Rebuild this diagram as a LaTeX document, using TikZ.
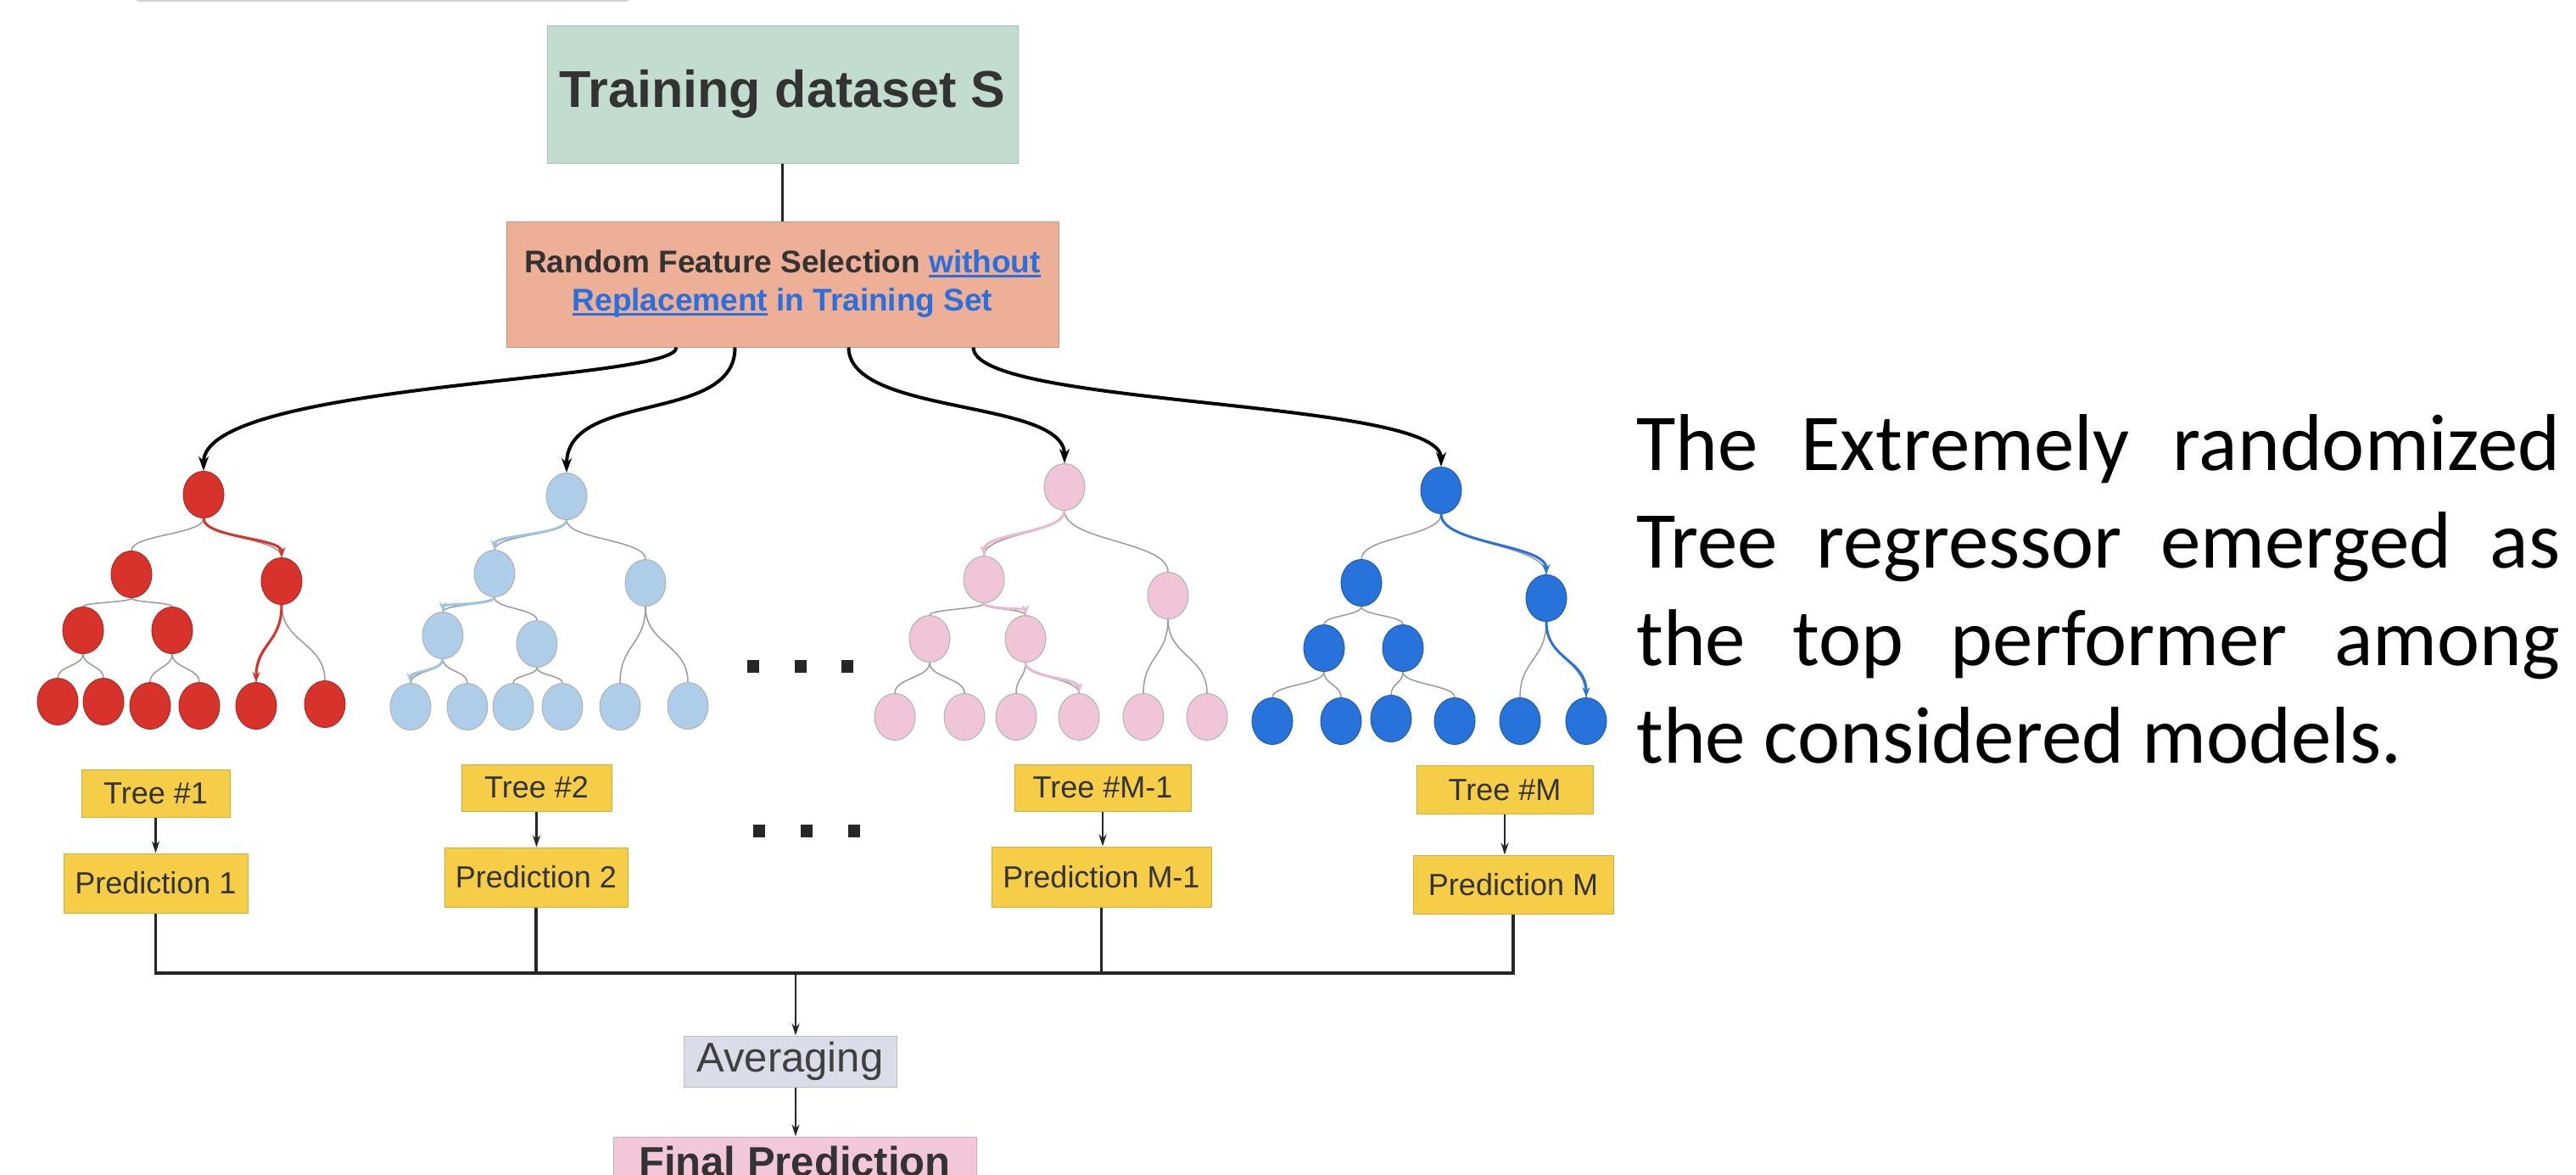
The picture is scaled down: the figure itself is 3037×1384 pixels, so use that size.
\documentclass[tikz,border=0pt]{standalone}
\usepackage{fontspec}
\setmainfont{Liberation Sans}
\newfontfamily\carl{Carlito}
\usetikzlibrary{shapes.geometric,arrows.meta,calc}
\definecolor{trainG}{HTML}{C2DDCF}
\definecolor{randO}{HTML}{EEAF97}
\definecolor{yel}{HTML}{F5CD47}
\definecolor{avgL}{HTML}{DCDBE8}
\definecolor{finP}{HTML}{F2C7DA}
\definecolor{redN}{HTML}{D8332A}
\definecolor{lbN}{HTML}{AECDE9}
\definecolor{lbH}{HTML}{9DC2E6}
\definecolor{pkN}{HTML}{F0C5D8}
\definecolor{pkH}{HTML}{EBB7CE}
\definecolor{blN}{HTML}{2772DB}
\definecolor{txt}{HTML}{333333}
\definecolor{lnk}{HTML}{2A6FDB}
\definecolor{egray}{HTML}{9A9A9A}
\newcommand\ulx[1]{\setbox0\hbox{#1}\rlap{\rule[-5pt]{\wd0}{3pt}}\box0\relax}
\newcommand\treeedge[3][edge]{\draw[#1] (#2.south) .. controls ($(#2.south)!0.5!(#2.south |- #3.north)$) and ($(#3.north)!0.5!(#3.north |- #2.south)$) .. (#3.north);}
\begin{document}
\begin{tikzpicture}[x=1pt,y=-1pt,
  box/.style={rectangle, fill=#1, draw=#1!85!black, line width=1pt, inner sep=0pt, text=txt},
  tn/.style={ellipse, minimum width=48pt, minimum height=55pt, inner sep=0pt, line width=1pt},
  rN/.style={tn, fill=redN, draw=redN!80!black},
  lN/.style={tn, fill=lbN, draw=black!30},
  pN/.style={tn, fill=pkN, draw=black!30},
  bN/.style={tn, fill=blN, draw=blN!80!black},
  edge/.style={draw=egray, line width=1.5pt},
  hl/.style={draw=#1, line width=3pt, -{Stealth[length=12pt,width=9pt]}},
  conn/.style={draw=black, line width=4pt, -{Stealth[length=17pt,width=12pt]}},
  arr/.style={draw=black!85, line width=2.5pt, -{Stealth[length=14pt,width=9pt]}},
  bus/.style={draw=black!85, line width=3.5pt},
  dotsq/.style={rectangle, fill=black!85, minimum width=14pt, minimum height=15pt, inner sep=0pt},
  lbl/.style={font=\fontsize{36}{40}\selectfont},
  rtxt/.style={anchor=base west, inner sep=0pt, font=\carl\fontsize{95}{115}\selectfont},
]
\useasboundingbox (0,0) rectangle (3037,1384);
\fill[white] (0,0) rectangle (3037,1384);
\clip (0,0) rectangle (3037,1384);

% faint cropped shape at top left
\draw[black!18, line width=2pt, rounded corners=10pt] (156,-40) rectangle (746,1);

% top boxes
\node[box=trainG, minimum width=555pt, minimum height=162pt, font=\bfseries\fontsize{61}{70}\selectfont] (train) at (922.5,111) {Training dataset S};
\node[box=randO, minimum width=651pt, minimum height=148pt, align=center, font=\bfseries\fontsize{37}{45}\selectfont] (rand) at (922.5,335)
  {Random Feature Selection \textcolor{lnk}{\ulx{without}}\\\textcolor{lnk}{\ulx{Replacement} in Training Set}};
\draw[line width=2.5pt, black!85] (train.south) -- (rand.north);

% red tree
\node[rN] (Rr) at (240,583) {};
\node[rN] (Ra) at (155,677) {};
\node[rN] (Rb) at (332,685) {};
\node[rN] (Rc) at (98,743) {};
\node[rN] (Rd) at (203,743) {};
\node[rN] (R1) at (68,827) {};
\node[rN] (R2) at (122,827) {};
\node[rN] (R3) at (177,832) {};
\node[rN] (R4) at (235,832) {};
\node[rN] (R5) at (302,832) {};
\node[rN] (R6) at (383,830) {};
% light blue tree
\node[lN] (Lr) at (668,585) {};
\node[lN] (La) at (583,676) {};
\node[lN] (Lb) at (761,687) {};
\node[lN] (Lc) at (522,749) {};
\node[lN] (Ld) at (633,759) {};
\node[lN] (L1) at (484,833) {};
\node[lN] (L2) at (551,833) {};
\node[lN] (L3) at (605,833) {};
\node[lN] (L4) at (663,833) {};
\node[lN] (L5) at (731,833) {};
\node[lN] (L6) at (811,832) {};
% pink tree
\node[pN] (Pr) at (1255,574) {};
\node[pN] (Pa) at (1160,683) {};
\node[pN] (Pb) at (1377,702) {};
\node[pN] (Pc) at (1096,753) {};
\node[pN] (Pd) at (1209,753) {};
\node[pN] (P1) at (1055,845) {};
\node[pN] (P2) at (1137,845) {};
\node[pN] (P3) at (1198,845) {};
\node[pN] (P4) at (1272,845) {};
\node[pN] (P5) at (1348,845) {};
\node[pN] (P6) at (1423,845) {};
% blue tree
\node[bN] (Br) at (1699,578) {};
\node[bN] (Ba) at (1605,687) {};
\node[bN] (Bb) at (1823,705) {};
\node[bN] (Bc) at (1561,764) {};
\node[bN] (Bd) at (1654,764) {};
\node[bN] (B1) at (1500,850) {};
\node[bN] (B2) at (1581,850) {};
\node[bN] (B3) at (1640,847) {};
\node[bN] (B4) at (1715,850) {};
\node[bN] (B5) at (1792,850) {};
\node[bN] (B6) at (1870,850) {};

\foreach \T in {R,L,P,B}{
  \foreach \pa/\ch in {r/a,r/b,a/c,a/d,c/1,c/2,d/3,d/4,b/5,b/6}{
    \treeedge{\T\pa}{\T\ch}
  }
}
% highlighted decision paths
\treeedge[hl=redN]{Rr}{Rb}
\treeedge[hl=redN]{Rb}{R5}
\treeedge[hl=lbH]{Lr}{La}
\treeedge[hl=lbH]{La}{Lc}
\treeedge[hl=lbH]{Lc}{L1}
\treeedge[hl=pkH]{Pr}{Pa}
\treeedge[hl=pkH]{Pa}{Pd}
\treeedge[hl=pkH]{Pd}{P4}
\treeedge[hl=blN]{Br}{Bb}
\treeedge[hl=blN]{Bb}{B6}

% connectors from feature selection to trees
\draw[conn] ([xshift=201pt]rand.south west) .. controls (798,450) and (240,450) .. (Rr.north);
\draw[conn] ([xshift=270pt]rand.south west) .. controls (867,500) and (668,460) .. (Lr.north);
\draw[conn] ([xshift=404pt]rand.south west) .. controls (1001,490) and (1255,470) .. (Pr.north);
\draw[conn] ([xshift=551pt]rand.south west) .. controls (1148,480) and (1699,470) .. (Br.north);

% ellipsis squares
\node[dotsq] (e1) at (888,785) {};
\node[dotsq] (e2) at (944,785) {};
\node[dotsq] (e3) at (999,785) {};
\node[dotsq] (f1) at (895,979) {};
\node[dotsq] (f2) at (951,979) {};
\node[dotsq] (f3) at (1007,979) {};

% tree and prediction boxes
\node[box=yel, lbl, minimum width=175pt, minimum height=56pt] (t1) at (183.5,935) {Tree \#1};
\node[box=yel, lbl, minimum width=217pt, minimum height=70pt] (p1) at (183.5,1041) {Prediction 1};
\node[box=yel, lbl, minimum width=177pt, minimum height=55pt] (t2) at (632.5,928.5) {Tree \#2};
\node[box=yel, lbl, minimum width=216pt, minimum height=70pt] (p2) at (632,1034) {Prediction 2};
\node[box=yel, lbl, minimum width=208pt, minimum height=55pt] (t3) at (1300,928.5) {Tree \#M-1};
\node[box=yel, lbl, minimum width=259pt, minimum height=71pt] (p3) at (1298.5,1033.5) {Prediction M-1};
\node[box=yel, lbl, minimum width=208pt, minimum height=57pt] (t4) at (1774,931) {Tree \#M};
\node[box=yel, lbl, minimum width=236pt, minimum height=69pt] (p4) at (1784,1042.5) {Prediction M};

\draw[arr] (t1.south) -- (t1.south |- p1.north);
\draw[arr] (t2.south) -- (t2.south |- p2.north);
\draw[arr] (t3.south) -- (t3.south |- p3.north);
\draw[arr] (t4.south) -- (t4.south |- p4.north);

% collecting bus
\draw[bus] (p1.south) -- (p1.south |- 0,1147) -- (p4.south |- 0,1147) -- (p4.south);
\draw[bus] (p2.south) -- (p2.south |- 0,1147);
\draw[bus] (p3.south) -- (p3.south |- 0,1147);
\coordinate (bm) at (938,1147);

\node[box=avgL, minimum width=251pt, minimum height=60pt, text=black!75, font=\fontsize{49}{55}\selectfont] (avg) at (931.5,1251) {Averaging};
\node[box=finP, minimum width=428pt, minimum height=58pt, font=\bfseries\fontsize{49}{55}\selectfont] (final) at (937,1369) {Final Prediction};
\draw[arr] (bm) -- (bm |- avg.north);
\draw[arr] (avg.south -| bm) -- (bm |- final.north);

% right text
\node[rtxt] (tx1) at (1929,554) {\makebox[1089pt][s]{The Extremely randomized}};
\node[rtxt] (tx2) at (1929,669) {\makebox[1089pt][s]{Tree regressor emerged as}};
\node[rtxt] (tx3) at (1929,784) {\makebox[1089pt][s]{the top performer among}};
\node[rtxt] (tx4) at (1929,899) {the considered models.};
\end{tikzpicture}
\end{document}
